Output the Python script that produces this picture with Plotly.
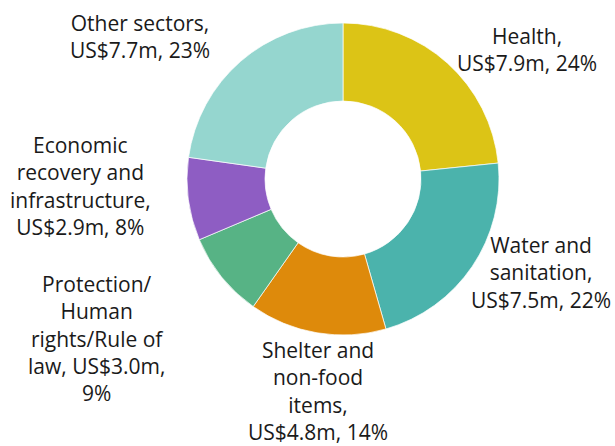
import plotly.graph_objects as go

sectors = ["Health", "Water and sanitation", "Shelter and non-food items",
           "Protection/Human rights/Rule of law", "Economic recovery and infrastructure",
           "Other sectors"]
values_musd = [7.9, 7.5, 4.8, 3.0, 2.9, 7.7]
shares_pct = [24, 22, 14, 9, 8, 23]
label_texts = [
    "Health,<br>US$7.9m, 24%",
    "Water and<br>sanitation,<br>US$7.5m, 22%",
    "Shelter and<br>non-food<br>items,<br>US$4.8m, 14%",
    "Protection/<br>Human<br>rights/Rule of<br>law, US$3.0m,<br>9%",
    "Economic<br>recovery and<br>infrastructure,<br>US$2.9m, 8%",
    "Other sectors,<br>US$7.7m, 23%",
]
colors = ["#DCC416", "#4BB3AC", "#DE8A0B", "#57B385", "#8E5DC3", "#95D6CF"]

W, H = 615, 446
# label centre positions in pixels (layout)
label_px = [(527, 50), (541, 272), (318, 391), (96, 338), (80, 186), (140, 36)]

fig = go.Figure(go.Pie(
    labels=sectors, values=values_musd, hole=0.5, sort=False,
    direction="clockwise", rotation=0,
    marker=dict(colors=colors, line=dict(color="white", width=0.7)),
    textinfo="none", hoverinfo="label+value+percent", showlegend=False,
    domain=dict(x=[187 / W, 499 / W], y=[1 - 335 / H, 1 - 23 / H]),
))

for txt, (px, py) in zip(label_texts, label_px):
    fig.add_annotation(text=txt, x=px / W, y=1 - py / H, xref="paper", yref="paper",
                       xanchor="center", yanchor="middle", align="center",
                       showarrow=False, font=dict(family="Open Sans", size=21, color="#1a1a1a"))

fig.update_layout(width=W, height=H, margin=dict(l=0, r=0, t=0, b=0),
                  paper_bgcolor="white", plot_bgcolor="white")
fig.write_html("out.html", config={"displayModeBar": False},
               post_script="document.body.style.margin='0';document.body.style.overflow='hidden';")
